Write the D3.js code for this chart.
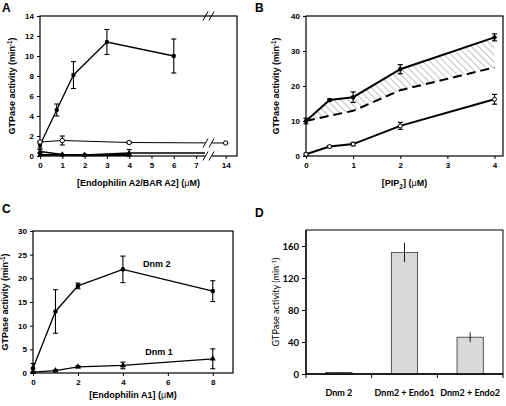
<!DOCTYPE html>
<html><head><meta charset="utf-8">
<script src="https://cdn.jsdelivr.net/npm/d3@7"></script>
<style>body{margin:0;background:#fff}svg{display:block}</style>
</head><body>
<svg id="c" width="506" height="406"></svg>
<script>
// ---------- DATA ----------
// Panel A
const aTicks = [0,1,2,3,4,5,6,7,14];
const aYTicks = [0,2,4,6,8,10,12,14];
const aS1x = [0,0.75,1.5,3,6];
const aS1y = [1.1,4.6,8.1,11.4,10];
const aS1e = [0.3,0.6,1.35,1.25,1.7];
const aS2x = [0,1,4,14];
const aS2y = [1.4,1.55,1.35,1.3];
const aS2e = [0.1,0.45,0.1,0.05];
const aS3x = [0,1,2,4];
const aS3y = [0.45,0.15,0.12,0.3];
const aS3e = [0.2,0,0,0.35];
const aS4x = [0,1,2,4];
const aS4y = [0.1,0.12,0.1,0.1];
// Panel B
const bX = [0,0.5,1,2,4];
const bTop = [10,16,16.8,24.8,33.9];
const bTopE = [0.8,0.3,1.5,1.3,1.0];
const bDash = [10,11.5,12.9,18.8,25.3];
const bBot = [0.5,2.7,3.4,8.6,16.2];
const bBotE = [0.3,0.3,0.5,1.0,1.4];
const bXTicks = [0,1,2,3,4];
const bYTicks = [0,10,20,30,40];
// Panel C
const cX = [0,1,2,4,8];
const cDnm2 = [1.0,13.0,18.4,21.9,17.3];
const cDnm2E = [1.0,4.6,0.6,2.8,2.2];
const cDnm1 = [0.2,0.5,1.3,1.6,3.0];
const cDnm1E = [0.2,0.2,0.2,0.7,2.1];
const cXTicks = [0,2,4,6,8];
const cYTicks = [0,5,10,15,20,25,30];
// Panel D
const dCats = ["Dnm 2","Dnm2 + Endo1","Dnm2 + Endo2"];
const dVals = [2,152,46];
const dErr = [0.5,12,6];
const dYTicks = [0,40,80,120,160];

// ---------- DRAWING ----------
const svg = d3.select("#c");
const F = "'Liberation Sans', Arial, sans-serif";
const defs = svg.append("defs");
const pat = defs.append("pattern").attr("id","hatch").attr("patternUnits","userSpaceOnUse")
  .attr("width",5).attr("height",5).attr("patternTransform","rotate(-45)");
pat.append("line").attr("x1",0).attr("y1",0).attr("x2",0).attr("y2",5)
  .attr("stroke","#666").attr("stroke-width",0.8);

function panelLetter(t,x,y){
  svg.append("text").attr("x",x).attr("y",y).attr("font-family",F).attr("font-weight","bold")
    .attr("font-size",12).text(t);
}
function yLabel(x,y,fam,weight,size){
  const t = svg.append("text").attr("transform",`translate(${x},${y}) rotate(-90)`)
    .attr("text-anchor","middle").attr("font-family",fam).attr("font-weight",weight).attr("font-size",size);
  t.append("tspan").text("GTPase activity (min");
  t.append("tspan").attr("dy",-3.5).attr("font-size",size*0.7).text("-1");
  t.append("tspan").attr("dy",3.5).text(")");
}
function xLabel(x,y,pre,sub,post){
  const t = svg.append("text").attr("x",x).attr("y",y).attr("text-anchor","middle")
    .attr("font-family",F).attr("font-weight","bold").attr("font-size",9);
  t.append("tspan").text(pre);
  if(sub){ t.append("tspan").attr("dy",2.5).attr("font-size",6.5).text(sub);
           t.append("tspan").attr("dy",-2.5).text(post); }
  t.append("tspan").text(" (");
  t.append("tspan").attr("font-weight","normal").text("\u03BC");
  t.append("tspan").text("M)");
}
function axes(g,x,y,xt,yt,L,R,T,B){
  const ax = g.append("g").attr("transform",`translate(0,${B})`)
    .call(d3.axisBottom(x).tickValues(xt).tickSize(3).tickPadding(3).tickFormat(d3.format("d")));
  const ay = g.append("g").attr("transform",`translate(${L},0)`)
    .call(d3.axisLeft(y).tickValues(yt).tickSize(3).tickPadding(3).tickFormat(d3.format("d")));
  [ax,ay].forEach(a=>{a.select(".domain").remove();
    a.selectAll("text").attr("font-family",F).attr("font-weight","bold").attr("font-size",8).attr("fill","#000");
    a.selectAll("line").attr("stroke","#000").attr("stroke-width",1);});
  g.append("rect").attr("x",L).attr("y",T).attr("width",R-L).attr("height",B-T)
    .attr("fill","none").attr("stroke","#000").attr("stroke-width",1.2);
}
function errBars(g,xs,ys,es,x,y,cap,w){
  xs.forEach((xv,i)=>{ if(!es[i]) return;
    const cx=x(xv), y1=y(ys[i]+es[i]), y2=y(Math.max(0,ys[i]-es[i]));
    g.append("line").attr("x1",cx).attr("x2",cx).attr("y1",y1).attr("y2",y2).attr("stroke","#000").attr("stroke-width",w);
    [y1,y2].forEach(yy=>g.append("line").attr("x1",cx-cap).attr("x2",cx+cap).attr("y1",yy).attr("y2",yy).attr("stroke","#000").attr("stroke-width",w));
  });
}
function series(g,xs,ys,x,y,w,dash){
  g.append("path").datum(xs.map((v,i)=>[v,ys[i]]))
    .attr("d",d3.line().x(d=>x(d[0])).y(d=>y(d[1])))
    .attr("fill","none").attr("stroke","#000").attr("stroke-width",w)
    .attr("stroke-dasharray",dash||null);
}
function markers(g,xs,ys,x,y,type,r){
  xs.forEach((v,i)=>{
    const cx=x(v), cy=y(ys[i]);
    if(type==="fc") g.append("circle").attr("cx",cx).attr("cy",cy).attr("r",r).attr("fill","#000");
    else if(type==="oc") g.append("circle").attr("cx",cx).attr("cy",cy).attr("r",r).attr("fill","#fff").attr("stroke","#000").attr("stroke-width",1);
    else if(type==="os") g.append("rect").attr("x",cx-r).attr("y",cy-r).attr("width",2*r).attr("height",2*r).attr("fill","#fff").attr("stroke","#000").attr("stroke-width",1);
    else if(type==="ft") g.append("path").attr("d",d3.symbol(d3.symbolTriangle,r*r*5)()).attr("transform",`translate(${cx},${cy})`).attr("fill","#000");
  });
}

// ---------- Panel A ----------
{
  const L=40,R=237,T=16,B=156;
  const x = d3.scaleLinear().domain([0,7.4,13.4,14.5]).range([L,205,212,R]);
  const y = d3.scaleLinear().domain([0,14]).range([B,T]);
  const g = svg.append("g");
  axes(g,x,y,aTicks,aYTicks,L,R,T,B);
  series(g,aS1x,aS1y,x,y,1.3);
  series(g,aS2x,aS2y,x,y,1);
  series(g,aS3x.concat([7.4]),aS3y.concat([aS3y[aS3y.length-1]]),x,y,1.3);
  series(g,aS4x,aS4y,x,y,1.8);
  errBars(g,aS1x,aS1y,aS1e,x,y,2.5,1.1);
  errBars(g,aS2x,aS2y,aS2e,x,y,2.5,1.1);
  errBars(g,aS3x,aS3y,aS3e,x,y,2.5,1.1);
  markers(g,aS1x,aS1y,x,y,"fc",2.2);
  markers(g,aS2x,aS2y,x,y,"oc",2.2);
  markers(g,aS4x,aS4y,x,y,"fc",2.2);
  markers(g,aS3x,aS3y,x,y,"ft",1.6);
  // axis break
  const gl = x(7.4), gr = x(13.4);
  g.append("rect").attr("x",gl).attr("y",T+1).attr("width",gr-gl).attr("height",B-T+1).attr("fill","#fff");
  [T, y(aS2y[aS2y.length-1]), B].forEach(yy=>{
    [gl-2, gl+4].forEach(xx=>g.append("line").attr("x1",xx).attr("y1",yy+4.5).attr("x2",xx+5).attr("y2",yy-4.5)
      .attr("stroke","#000").attr("stroke-width",1));
  });
  panelLetter("A",2,12);
  yLabel(15,86,F,"bold",9);
  xLabel((L+R)/2,186,"[Endophilin A2/BAR A2]");
}

// ---------- Panel B ----------
{
  const L=306,R=503,T=16,B=156;
  const x = d3.scaleLinear().domain([0,4.18]).range([L,R]);
  const y = d3.scaleLinear().domain([0,40]).range([B,T]);
  const g = svg.append("g");
  const area = d3.area().x(d=>x(d[0])).y0(d=>y(d[2])).y1(d=>y(d[1]));
  g.append("path").datum(bX.map((v,i)=>[v,bTop[i],bDash[i]])).attr("d",area).attr("fill","url(#hatch)");
  axes(g,x,y,bXTicks,bYTicks,L,R,T,B);
  series(g,bX,bTop,x,y,2);
  series(g,bX,bDash,x,y,2,"9,5");
  series(g,bX,bBot,x,y,2);
  errBars(g,bX,bTop,bTopE,x,y,2.5,1.2);
  errBars(g,bX,bBot,bBotE,x,y,2.5,1.2);
  markers(g,bX,bTop,x,y,"fc",2.2);
  markers(g,bX,bBot,x,y,"oc",2);
  panelLetter("B",255,12);
  yLabel(279,86,F,"bold",9);
  xLabel((L+R)/2,186,"[PIP","2","]");
}

// ---------- Panel C ----------
{
  const L=33,R=233,T=231,B=373;
  const x = d3.scaleLinear().domain([0,8.9]).range([L,R]);
  const y = d3.scaleLinear().domain([0,30]).range([B,T]);
  const g = svg.append("g");
  axes(g,x,y,cXTicks,cYTicks,L,R,T,B);
  series(g,cX,cDnm2,x,y,1.3);
  series(g,cX,cDnm1,x,y,1.3);
  errBars(g,cX,cDnm2,cDnm2E,x,y,2.5,1.1);
  errBars(g,cX,cDnm1,cDnm1E,x,y,2.5,1.1);
  markers(g,cX,cDnm2,x,y,"fc",2.3);
  markers(g,cX,cDnm1,x,y,"ft",1.8);
  g.append("text").attr("x",x(4.9)).attr("y",y(22.3)).attr("font-family",F).attr("font-weight","bold").attr("font-size",9).text("Dnm 2");
  g.append("text").attr("x",x(5.0)).attr("y",y(3.8)).attr("font-family",F).attr("font-weight","bold").attr("font-size",9).text("Dnm 1");
  panelLetter("C",2,213);
  yLabel(8,302,F,"bold",9);
  xLabel((L+R)/2,398,"[Endophilin A1]");
}

// ---------- Panel D ----------
{
  const L=306,R=503,T=230,B=374;
  const FD = "Lato, 'Open Sans', sans-serif";
  const x = d3.scaleBand().domain(dCats).range([L,R]).paddingInner(0.6).paddingOuter(0.3);
  const y = d3.scaleLinear().domain([0,180]).range([B,T]);
  const g = svg.append("g");
  g.append("rect").attr("x",L).attr("y",T).attr("width",R-L).attr("height",B-T).attr("fill","none").attr("stroke","#000").attr("stroke-width",1);
  const ay = g.append("g").attr("transform",`translate(${L},0)`)
    .call(d3.axisLeft(y).tickValues(dYTicks).tickSize(4).tickPadding(3));
  ay.select(".domain").remove();
  ay.selectAll("text").attr("font-family",FD).attr("font-weight","bold").attr("font-size",9.5).attr("fill","#000");
  ay.selectAll("line").attr("stroke","#000");
  const step = x.step();
  const bounds = dCats.map(c=>x(c)-step*x.paddingInner()/2).concat([R]);
  bounds.forEach(bx=>g.append("line").attr("x1",bx).attr("x2",bx).attr("y1",B).attr("y2",B+4).attr("stroke","#000"));
  dCats.forEach((c,i)=>{
    g.append("rect").attr("x",x(c)).attr("y",y(dVals[i])).attr("width",x.bandwidth()).attr("height",B-y(dVals[i]))
      .attr("fill", i===0 ? "#888" : "#d9d9d9").attr("stroke","#333").attr("stroke-width",0.8);
    const cx = x(c)+x.bandwidth()/2;
    g.append("line").attr("x1",cx).attr("x2",cx).attr("y1",y(dVals[i]+dErr[i])).attr("y2",y(dVals[i]-dErr[i])).attr("stroke","#000").attr("stroke-width",0.9);
    g.append("text").attr("x",cx).attr("y",B+22).attr("text-anchor","middle").attr("font-family",FD)
      .attr("font-weight","bold").attr("font-size",9).text(c);
  });
  g.append("line").attr("x1",L).attr("x2",L).attr("y1",T).attr("y2",B).attr("stroke","#000").attr("stroke-width",1.3);
  g.append("line").attr("x1",L).attr("x2",R).attr("y1",B).attr("y2",B).attr("stroke","#000").attr("stroke-width",1.3);
  panelLetter("D",255,217);
  yLabel(279,302,FD,"normal",9);
}
</script>
</body></html>
